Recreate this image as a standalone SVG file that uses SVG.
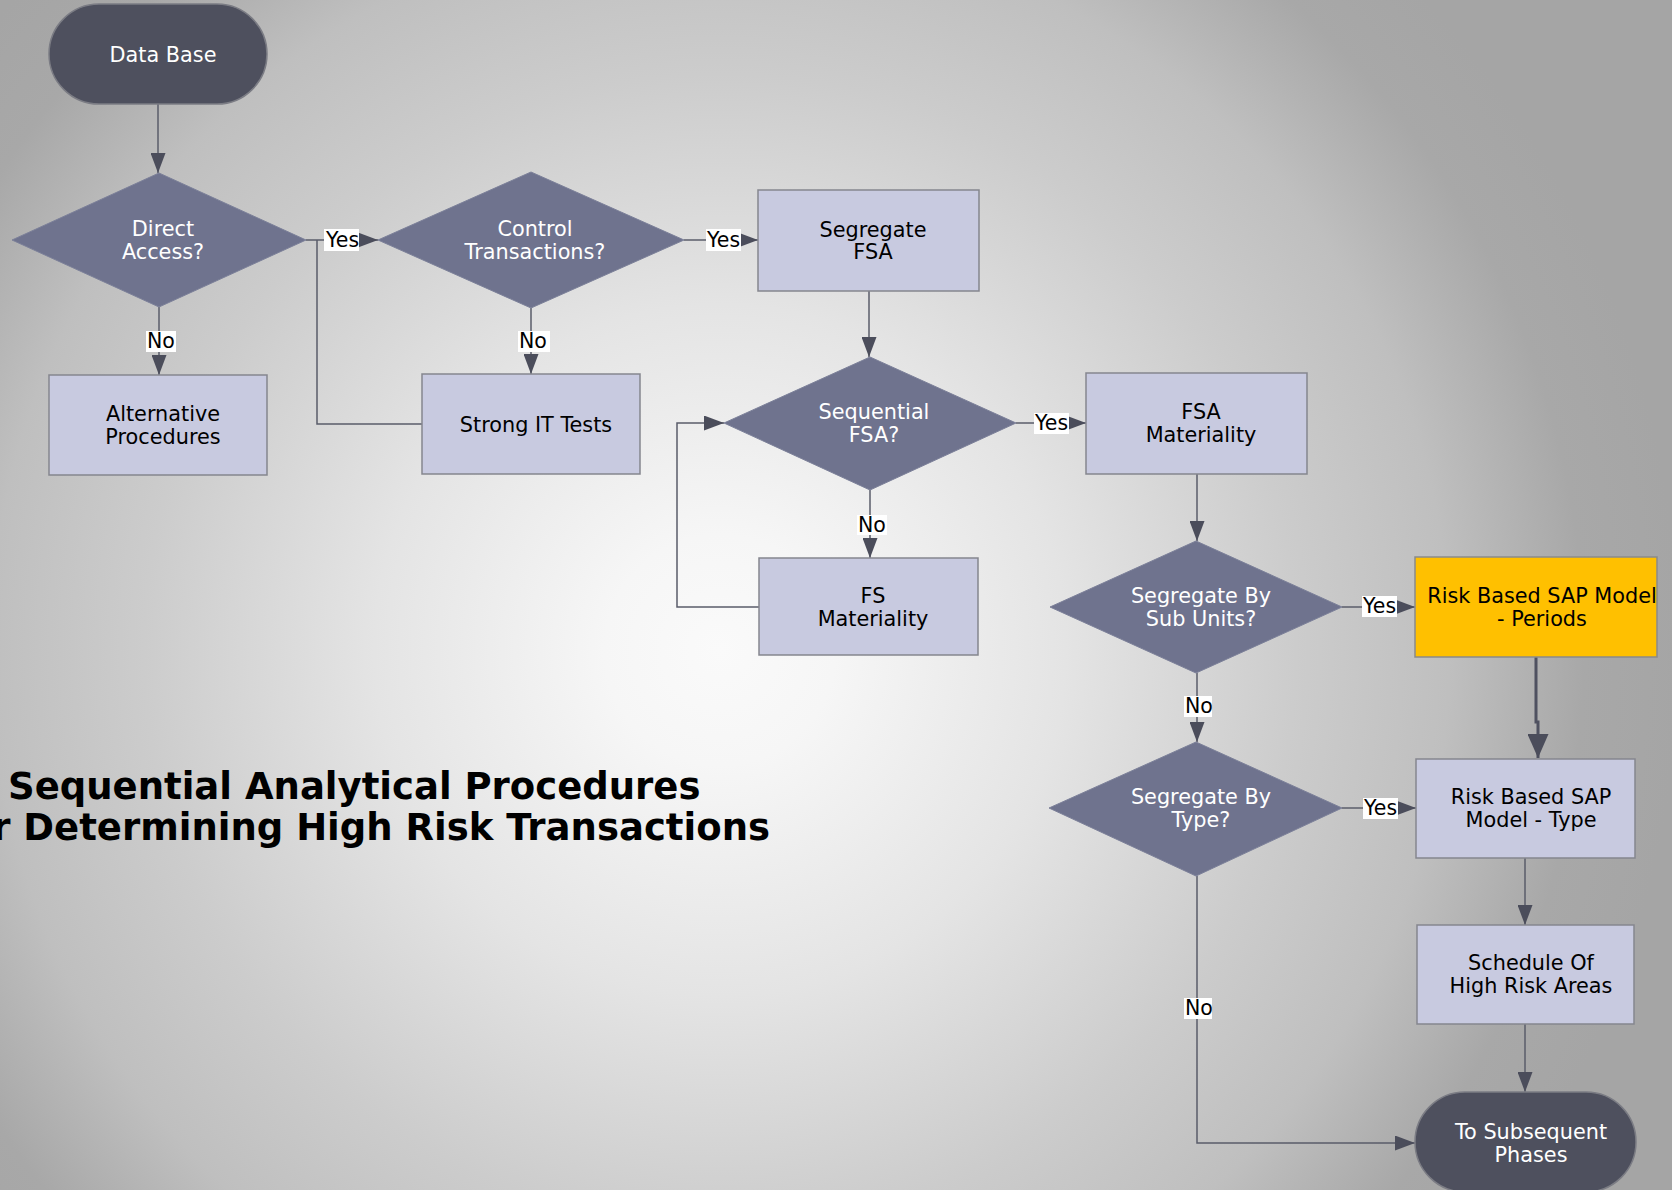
<svg xmlns="http://www.w3.org/2000/svg" width="1672" height="1190" viewBox="0 0 1672 1190">
<defs>
<radialGradient id="bg" gradientUnits="userSpaceOnUse" cx="720" cy="650" r="960">
<stop offset="0" stop-color="#fafafa"/>
<stop offset="0.12" stop-color="#f6f6f6"/>
<stop offset="0.36" stop-color="#e4e4e4"/>
<stop offset="0.6" stop-color="#cccccc"/>
<stop offset="0.76" stop-color="#bfbfbf"/>
<stop offset="0.9" stop-color="#a8a8a8"/>
<stop offset="1" stop-color="#a5a5a5"/>
</radialGradient>
<marker id="arr" markerUnits="userSpaceOnUse" markerWidth="20" markerHeight="15" refX="20" refY="7.5" orient="auto" viewBox="0 0 20 15">
<path d="M0,0 L20,7.5 L0,15 z" fill="#4b4d5b"/>
</marker>
<marker id="arrBig" markerUnits="userSpaceOnUse" markerWidth="24" markerHeight="21" refX="24" refY="10.5" orient="auto" viewBox="0 0 24 21">
<path d="M0,0 L24,10.5 L0,21 z" fill="#4b4d5b"/>
</marker>
</defs>
<style>
.dia{fill:#6f738e;stroke:#7c8099;stroke-width:1}
.box{fill:#c8cae0;stroke:#85868e;stroke-width:1.5}
.term{fill:#4e505e;stroke:#7b7c84;stroke-width:1.5}
.hot{fill:#ffc000;stroke:#8a8a8a;stroke-width:1.5}
.t{font-family:"DejaVu Sans",Verdana,sans-serif;font-size:20.8px;text-anchor:middle}
.w{fill:#ffffff}
.k{fill:#000000}
.conn{fill:none;stroke:#5a5c6a;stroke-width:1.5}
.thick{fill:none;stroke:#4f5160;stroke-width:3}
.lb{fill:#ffffff}
.lt{font-family:"DejaVu Sans",Verdana,sans-serif;font-size:20.5px;fill:#000000}
.title{font-family:"DejaVu Sans",Verdana,sans-serif;font-size:37px;font-weight:bold;fill:#000000}
</style>
<rect x="0" y="0" width="1672" height="1190" fill="url(#bg)"/>

<g id="connectors">
<path class="conn" d="M158,104 V173" marker-end="url(#arr)"/>
<path class="conn" d="M306,240 H378" marker-end="url(#arr)"/>
<path class="conn" d="M422,424 H317 V240"/>
<path class="conn" d="M159,307 V375" marker-end="url(#arr)"/>
<path class="conn" d="M531,308 V374" marker-end="url(#arr)"/>
<path class="conn" d="M684,240 H758" marker-end="url(#arr)"/>
<path class="conn" d="M869,291 V357" marker-end="url(#arr)"/>
<path class="conn" d="M1016,423 H1086" marker-end="url(#arr)"/>
<path class="conn" d="M870,490 V558" marker-end="url(#arr)"/>
<path class="conn" d="M759,607 H677 V423 H724" marker-end="url(#arr)"/>
<path class="conn" d="M1197,474 V541" marker-end="url(#arr)"/>
<path class="conn" d="M1342,607 H1415" marker-end="url(#arr)"/>
<path class="conn" d="M1197,673 V742" marker-end="url(#arr)"/>
<path class="thick" d="M1536,657 V722 H1538 V758" marker-end="url(#arrBig)"/>
<path class="conn" d="M1342,808 H1416" marker-end="url(#arr)"/>
<path class="conn" d="M1525,858 V925" marker-end="url(#arr)"/>
<path class="conn" d="M1525,1024 V1092" marker-end="url(#arr)"/>
<path class="conn" d="M1197,876 V1143 H1415" marker-end="url(#arr)"/>
<g id="labels">
<rect class="lb" x="324" y="229" width="35" height="22"/><text class="lt" x="326" y="247">Yes</text>
<rect class="lb" x="706" y="229" width="35" height="22"/><text class="lt" x="707" y="247">Yes</text>
<rect class="lb" x="146" y="331" width="30" height="21"/><text class="lt" x="147" y="348">No</text>
<rect class="lb" x="518" y="331" width="32" height="21"/><text class="lt" x="519" y="348">No</text>
<rect class="lb" x="1034" y="413" width="35" height="21"/><text class="lt" x="1035" y="430">Yes</text>
<rect class="lb" x="857" y="515" width="30" height="20"/><text class="lt" x="858" y="532">No</text>
<rect class="lb" x="1362" y="596" width="35" height="21"/><text class="lt" x="1363" y="613">Yes</text>
<rect class="lb" x="1184" y="696" width="28" height="21"/><text class="lt" x="1185" y="713">No</text>
<rect class="lb" x="1363" y="798" width="35" height="21"/><text class="lt" x="1364" y="815">Yes</text>
<rect class="lb" x="1184" y="998" width="28" height="21"/><text class="lt" x="1185" y="1015">No</text>
</g>
</g>

<g id="n-database">
<rect class="term" x="49" y="4" width="218" height="100" rx="50" ry="50"/>
<text class="t w" x="163" y="62">Data Base</text>
</g>
<g id="n-direct">
<path class="dia" d="M12,240 L159,173 L306,240 L159,307 z"/>
<text class="t w" x="163" y="236">Direct</text>
<text class="t w" x="163" y="259">Access?</text>
</g>
<g id="n-control">
<path class="dia" d="M378,240 L531,172 L684,240 L531,308 z"/>
<text class="t w" x="535" y="236">Control</text>
<text class="t w" x="535" y="259">Transactions?</text>
</g>
<g id="n-segfsa">
<rect class="box" x="758" y="190" width="221" height="101"/>
<text class="t k" x="873" y="237">Segregate</text>
<text class="t k" x="873" y="259">FSA</text>
</g>
<g id="n-alt">
<rect class="box" x="49" y="375" width="218" height="100"/>
<text class="t k" x="163" y="421">Alternative</text>
<text class="t k" x="163" y="444">Procedures</text>
</g>
<g id="n-strong">
<rect class="box" x="422" y="374" width="218" height="100"/>
<text class="t k" x="536" y="432">Strong IT Tests</text>
</g>
<g id="n-seqfsa">
<path class="dia" d="M724,423 L870,357 L1016,423 L870,490 z"/>
<text class="t w" x="874" y="419">Sequential</text>
<text class="t w" x="874" y="442">FSA?</text>
</g>
<g id="n-fsamat">
<rect class="box" x="1086" y="373" width="221" height="101"/>
<text class="t k" x="1201" y="419">FSA</text>
<text class="t k" x="1201" y="442">Materiality</text>
</g>
<g id="n-fsmat">
<rect class="box" x="759" y="558" width="219" height="97"/>
<text class="t k" x="873" y="603">FS</text>
<text class="t k" x="873" y="626">Materiality</text>
</g>
<g id="n-subunits">
<path class="dia" d="M1050,607 L1196,541 L1342,607 L1196,673 z"/>
<text class="t w" x="1201" y="603">Segregate By</text>
<text class="t w" x="1201" y="626">Sub Units?</text>
</g>
<g id="n-periods">
<rect class="hot" x="1415" y="557" width="242" height="100"/>
<text class="t k" x="1542" y="603">Risk Based SAP Model</text>
<text class="t k" x="1542" y="626">- Periods</text>
</g>
<g id="n-type">
<path class="dia" d="M1049,808 L1196,742 L1342,808 L1196,876 z"/>
<text class="t w" x="1201" y="804">Segregate By</text>
<text class="t w" x="1201" y="827">Type?</text>
</g>
<g id="n-risktype">
<rect class="box" x="1416" y="759" width="219" height="99"/>
<text class="t k" x="1531" y="804">Risk Based SAP</text>
<text class="t k" x="1531" y="827">Model - Type</text>
</g>
<g id="n-schedule">
<rect class="box" x="1417" y="925" width="217" height="99"/>
<text class="t k" x="1531" y="970">Schedule Of</text>
<text class="t k" x="1531" y="993">High Risk Areas</text>
</g>
<g id="n-subsequent">
<rect class="term" x="1415" y="1092" width="221" height="100" rx="50" ry="50"/>
<text class="t w" x="1531" y="1139">To Subsequent</text>
<text class="t w" x="1531" y="1162">Phases</text>
</g>

<g id="title">
<text class="title" x="8" y="799">Sequential Analytical Procedures</text>
<text class="title" x="770" y="840" text-anchor="end">r Determining High Risk Transactions</text>
</g>
</svg>
